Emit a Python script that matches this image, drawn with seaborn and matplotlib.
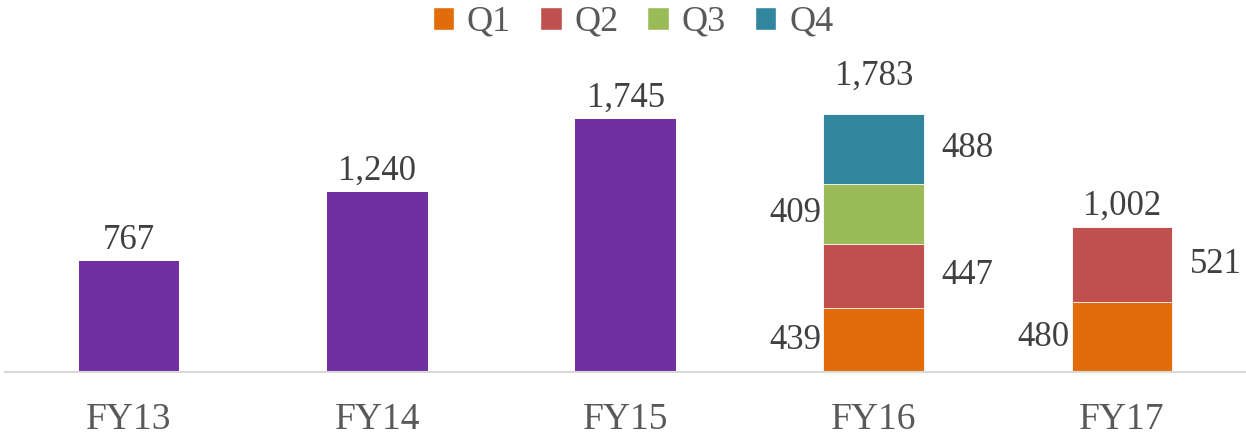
import numpy as np
import pandas as pd
import matplotlib
matplotlib.use("Agg")
import matplotlib.pyplot as plt
from matplotlib.patches import Patch
import seaborn as sns

# data
years = ["FY13", "FY14", "FY15", "FY16", "FY17"]
annual = [767, 1240, 1745, np.nan, np.nan]
q1 = [np.nan, np.nan, np.nan, 439, 480]
q2 = [np.nan, np.nan, np.nan, 447, 521]
q3 = [np.nan, np.nan, np.nan, 409, np.nan]
q4 = [np.nan, np.nan, np.nan, 488, np.nan]
totals = [767, 1240, 1745, 1783, 1002]
quarters = ["Q1", "Q2", "Q3", "Q4"]

colors = {"annual": "#7030A0", "Q1": "#E36C0A", "Q2": "#C0504D",
          "Q3": "#9BBB59", "Q4": "#31859C"}
text_col = "#404040"
serif = ["Liberation Serif", "DejaVu Serif"]

sns.set_theme(style="white")
plt.rcParams["font.family"] = serif
plt.rcParams["font.serif"] = serif

fig = plt.figure(figsize=(12.46, 4.43), dpi=100)
ax = fig.add_axes([5 / 1246, 71 / 443, 1241 / 1246, 372 / 443])

df = pd.DataFrame({"year": years, "annual": annual,
                   "Q1": q1, "Q2": q2, "Q3": q3, "Q4": q4})
# cumulative stacks, drawn tallest first
cum = df[quarters].cumsum(axis=1, skipna=False)
cum = cum.where(df[quarters].notna())

sns.barplot(data=df, x="year", y="annual", order=years, color=colors["annual"],
            width=0.405, saturation=1, ax=ax, errorbar=None, linewidth=0)
for q in reversed(quarters):
    sns.barplot(x=df["year"], y=cum[q], order=years, color=colors[q],
                width=0.405, saturation=1, ax=ax, errorbar=None,
                edgecolor="white", linewidth=0.6)

ax.set_xlim(-0.5, 4.5)
ax.set_ylim(0, 2566)
ax.set_xlabel("")
ax.set_ylabel("")
ax.set_yticks([])
for s in ["top", "left", "right"]:
    ax.spines[s].set_visible(False)
ax.spines["bottom"].set_color("#D9D9D9")
ax.spines["bottom"].set_linewidth(1.5)
ax.tick_params(axis="x", length=0, pad=22, labelsize=27, labelcolor="#595959")
for lbl in ax.get_xticklabels():
    lbl.set_family(serif)

# total labels
extra = {3: 12}
for i, t in enumerate(totals):
    ax.annotate(f"{t:,}", (i, t), xytext=(0, 3 + extra.get(i, 0)),
                textcoords="offset points", ha="center", va="bottom",
                fontsize=25, color=text_col, family=serif)

# segment labels (alternate left / right of the bar)
for i in range(len(years)):
    side = -1
    for q in quarters:
        v = df.loc[i, q]
        if np.isnan(v):
            continue
        mid = cum.loc[i, q] - v / 2
        if side < 0:
            x, ha, dx = i - 0.2, "right", -2
        else:
            x, ha, dx = i + 0.2, "left", 13
        ax.annotate(f"{int(v):,}", (x, mid), xytext=(dx, 0),
                    textcoords="offset points", ha=ha, va="center",
                    fontsize=25, color=text_col, family=serif)
        side = -side

handles = [Patch(facecolor=colors[q], label=q) for q in quarters]
fig.legend(handles=handles, loc="upper center", bbox_to_anchor=(0.508, 1.06),
           ncol=4, frameon=False, handlelength=0.6,
           handleheight=0.6, handletextpad=0.35, columnspacing=0.8,
           labelcolor="#595959", prop={"family": serif, "size": 26})

fig.savefig("out.png", dpi=100)
